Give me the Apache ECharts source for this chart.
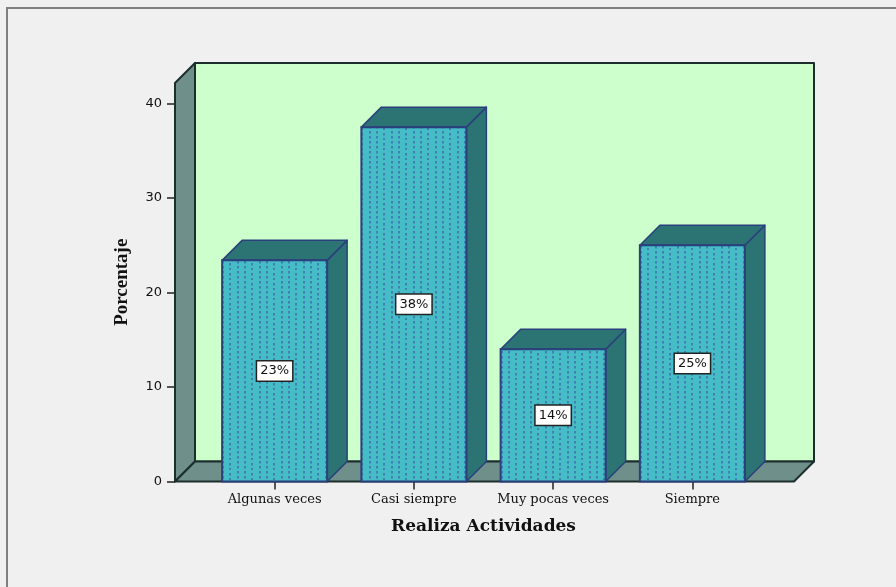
<!DOCTYPE html>
<html>
<head>
<meta charset="utf-8">
<style>html,body{margin:0;padding:0;background:#f0f0f0}#c{width:896px;height:587px}</style>
<script src="https://cdn.jsdelivr.net/npm/echarts@6/dist/echarts.min.js"></script>
</head>
<body>
<div id="c"></div>
<script>
var categories = ['Algunas veces', 'Casi siempre', 'Muy pocas veces', 'Siempre'];
var percentages = [23.4, 37.5, 14.0, 25.0];
var barLabels = ['23%', '38%', '14%', '25%'];
var yTicks = [0, 10, 20, 30, 40];

var DEPTH = 20, LEFT_PAD = 30, RIGHT_PAD = 32, BAR_RATIO = 0.754;
var WALL = '#ccffcc', SIDE = '#6f8f8b', EDGE = '#1c2e2c', BAR = '#45bcc6', BAR_DARK = '#2c7474', BAR_EDGE = '#2b3f7c', DOT = '#4080b4';

function dotPattern() {
  var c = document.createElement('canvas');
  c.width = 22; c.height = 10;
  var g = c.getContext('2d');
  g.fillStyle = BAR; g.fillRect(0, 0, 22, 10);
  g.fillStyle = DOT;
  [[2, 1], [2, 6], [9, 3], [9, 8], [17, 1], [17, 6]].forEach(function (p) { g.fillRect(p[0], p[1], 2, 2.5); });
  return { type: 'pattern', image: c, repeat: 'repeat' };
}
var pattern = dotPattern();

function poly(points, fill, stroke, lw) {
  return { type: 'polygon', shape: { points: points }, style: { fill: fill, stroke: stroke, lineWidth: lw, lineJoin: 'round' } };
}

function renderWalls(params, api) {
  var cs = params.coordSys;
  var l = cs.x - LEFT_PAD, r = cs.x + cs.width + RIGHT_PAD, b = cs.y + cs.height, t = cs.y, d = DEPTH;
  return {
    type: 'group',
    children: [
      poly([[l + d, t - d], [r + d, t - d], [r + d, b - d], [l + d, b - d]], WALL, EDGE, 2),
      poly([[l, t], [l + d, t - d], [l + d, b - d], [l, b]], SIDE, EDGE, 2),
      poly([[l, b], [l + d, b - d], [r + d, b - d], [r, b]], SIDE, EDGE, 2)
    ]
  };
}

function renderBar(params, api) {
  var idx = api.value(0), val = api.value(1);
  var top = api.coord([idx, val]), base = api.coord([idx, 0]);
  var w = api.size([1, 0])[0] * BAR_RATIO, d = DEPTH;
  var x0 = top[0] - w / 2, x1 = top[0] + w / 2, y0 = top[1], y1 = base[1];
  return {
    type: 'group',
    children: [
      poly([[x1, y0], [x1 + d, y0 - d], [x1 + d, y1 - d], [x1, y1]], BAR_DARK, BAR_EDGE, 1.5),
      poly([[x0, y0], [x0 + d, y0 - d], [x1 + d, y0 - d], [x1, y0]], BAR_DARK, BAR_EDGE, 1.5),
      { type: 'rect', shape: { x: x0, y: y0, width: w, height: y1 - y0 }, style: { fill: pattern, stroke: BAR_EDGE, lineWidth: 2 } },
      {
        type: 'text',
        style: {
          x: top[0], y: (y0 + y1) / 2, text: barLabels[params.dataIndex], align: 'center', verticalAlign: 'middle',
          font: '13px "DejaVu Sans"', fill: '#111', backgroundColor: '#fff', borderColor: '#222', borderWidth: 1.5,
          padding: [3, 3, 3, 3]
        }
      }
    ]
  };
}

var chart = echarts.init(document.getElementById('c'), null, { renderer: 'canvas' });
chart.setOption({
  animation: false,
  backgroundColor: '#f0f0f0',
  grid: { left: 205, width: 557, top: 83, height: 398.5 },
  xAxis: {
    type: 'category', data: categories,
    axisLine: { show: false },
    axisTick: { show: true, alignWithLabel: true, length: 8, lineStyle: { color: '#222', width: 1.5 } },
    axisLabel: { margin: 12, fontFamily: 'DejaVu Serif', fontSize: 13, color: '#111', interval: 0 },
    name: 'Realiza Actividades', nameLocation: 'middle', nameGap: 37,
    nameTextStyle: { fontFamily: 'DejaVu Serif', fontWeight: 'bold', fontSize: 17, color: '#111' }
  },
  yAxis: {
    type: 'value', min: 0, max: 42.17, offset: LEFT_PAD,
    splitLine: { show: false },
    axisLine: { show: false },
    axisTick: { show: true, length: 8, customValues: yTicks, lineStyle: { color: '#222', width: 1.5 } },
    axisLabel: { margin: 13, fontFamily: 'DejaVu Sans', fontSize: 13, color: '#111', customValues: yTicks },
    name: 'Porcentaje', nameLocation: 'middle', nameGap: 43, nameRotate: 90,
    nameTextStyle: { fontFamily: 'Liberation Serif', fontWeight: 'bold', fontSize: 19, color: '#111' }
  },
  graphic: [
    { type: 'polyline', z: 100, shape: { points: [[7, 587], [7, 8], [896, 8]] }, style: { fill: null, stroke: '#808080', lineWidth: 2 } }
  ],
  series: [
    { type: 'custom', name: 'walls', z: 1, clip: false, silent: true, renderItem: renderWalls, data: [[0, 0]], encode: { x: 0, y: 1 } },
    { type: 'custom', name: 'Porcentaje', z: 2, clip: false, renderItem: renderBar,
      data: percentages.map(function (v, i) { return [i, v]; }), encode: { x: 0, y: 1 } }
  ]
});
</script>
</body>
</html>
